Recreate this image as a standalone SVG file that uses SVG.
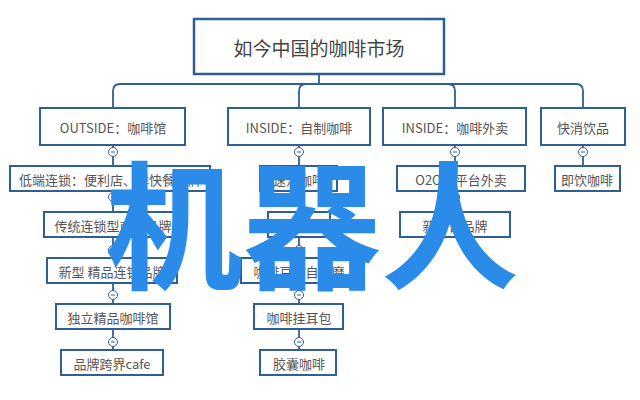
<svg xmlns="http://www.w3.org/2000/svg" width="640" height="400" viewBox="0 0 640 400">
<style>
rect.n{fill:#fff;stroke:#2f5f95;stroke-width:2}
rect.r{fill:#fff;stroke:#2f5f95;stroke-width:2.5}
text{font-family:"Noto Sans CJK SC","Noto Sans",sans-serif;fill:#555;font-size:13px;text-anchor:middle;dominant-baseline:central}
text.t{font-size:19px;fill:#444}
text.w{font-size:138px;font-weight:bold;fill:#2b8be8}
.c path,.c line{fill:none;stroke:#2f5f95;stroke-width:1.8}
</style>
<defs><g id="mm"><circle r="4.5" fill="#fff" stroke="#2f5f95" stroke-width="1"/><path d="M-2 0H2" stroke="#2f5f95" stroke-width="1"/></g></defs>
<rect width="640" height="400" fill="#fff"/>
<g class="c">
<path d="M319 75V84M113 108V91Q113 84 120 84H576Q583 84 583 91V108M299 108V91Q299 84 306 84M455 108V91Q455 84 448 84"/>
<line x1="113" y1="145" x2="113" y2="350"/>
<line x1="299" y1="145" x2="299" y2="350"/>
<line x1="455" y1="145" x2="455" y2="212"/>
<line x1="583" y1="145" x2="583" y2="166"/>
<use href="#mm" x="113" y="152"/><use href="#mm" x="113" y="197"/><use href="#mm" x="113" y="250"/><use href="#mm" x="113" y="295"/><use href="#mm" x="113" y="342"/>
<use href="#mm" x="299" y="152"/><use href="#mm" x="299" y="197"/><use href="#mm" x="299" y="250"/><use href="#mm" x="299" y="295"/><use href="#mm" x="299" y="342"/>
<use href="#mm" x="455" y="152"/><use href="#mm" x="455" y="197"/><use href="#mm" x="583" y="152"/>
</g>
<g id="root"><rect class="r" x="194" y="19" width="250" height="55"/><text class="t" x="319" y="47">如今中国的咖啡市场</text></g>
<g id="a"><rect class="n" x="40" y="108" width="145" height="37"/><text x="113" y="127">OUTSIDE：咖啡馆</text></g>
<g id="b"><rect class="n" x="228" y="108" width="142" height="37"/><text x="299" y="127">INSIDE：自制咖啡</text></g>
<g id="c"><rect class="n" x="383" y="108" width="143" height="37"/><text x="455" y="127">INSIDE：咖啡外卖</text></g>
<g id="d"><rect class="n" x="541" y="108" width="84" height="37"/><text x="583" y="127">快消饮品</text></g>
<g id="a1"><rect class="n" x="10" y="166" width="200" height="25"/><text x="110" y="179">低端连锁：便利店、洋快餐品牌</text></g>
<g id="a2"><rect class="n" x="44" y="212" width="139" height="25"/><text x="113" y="225">传统连锁型商业品牌</text></g>
<g id="a3"><rect class="n" x="47" y="258" width="130" height="25"/><text x="112" y="271">新型 精品连锁品牌</text></g>
<g id="a4"><rect class="n" x="56" y="304" width="114" height="25"/><text x="113" y="317">独立精品咖啡馆</text></g>
<g id="a5"><rect class="n" x="61" y="350" width="102" height="25"/><text x="112" y="363">品牌跨界cafe</text></g>
<g id="b1"><rect class="n" x="260" y="166" width="77" height="25"/><text x="299" y="179">速溶咖啡</text></g>
<g id="b2"><rect class="n" x="268" y="212" width="62" height="25"/><text x="299" y="225">咖啡粉</text></g>
<g id="b3"><rect class="n" x="241" y="258" width="115" height="25"/><text x="299" y="271">咖啡豆，自己磨</text></g>
<g id="b4"><rect class="n" x="254" y="304" width="89" height="25"/><text x="299" y="317">咖啡挂耳包</text></g>
<g id="b5"><rect class="n" x="260" y="350" width="76" height="25"/><text x="299" y="363">胶囊咖啡</text></g>
<g id="c1"><rect class="n" x="397" y="166" width="128" height="25"/><text x="461" y="179">O2O，平台外卖</text></g>
<g id="c2"><rect class="n" x="400" y="212" width="110" height="25"/><text x="455" y="225">新零售品牌</text></g>
<g id="d1"><rect class="n" x="555" y="166" width="65" height="25"/><text x="587" y="179">即饮咖啡</text></g>
<text class="w" x="312" y="218">机器人</text>
</svg>
